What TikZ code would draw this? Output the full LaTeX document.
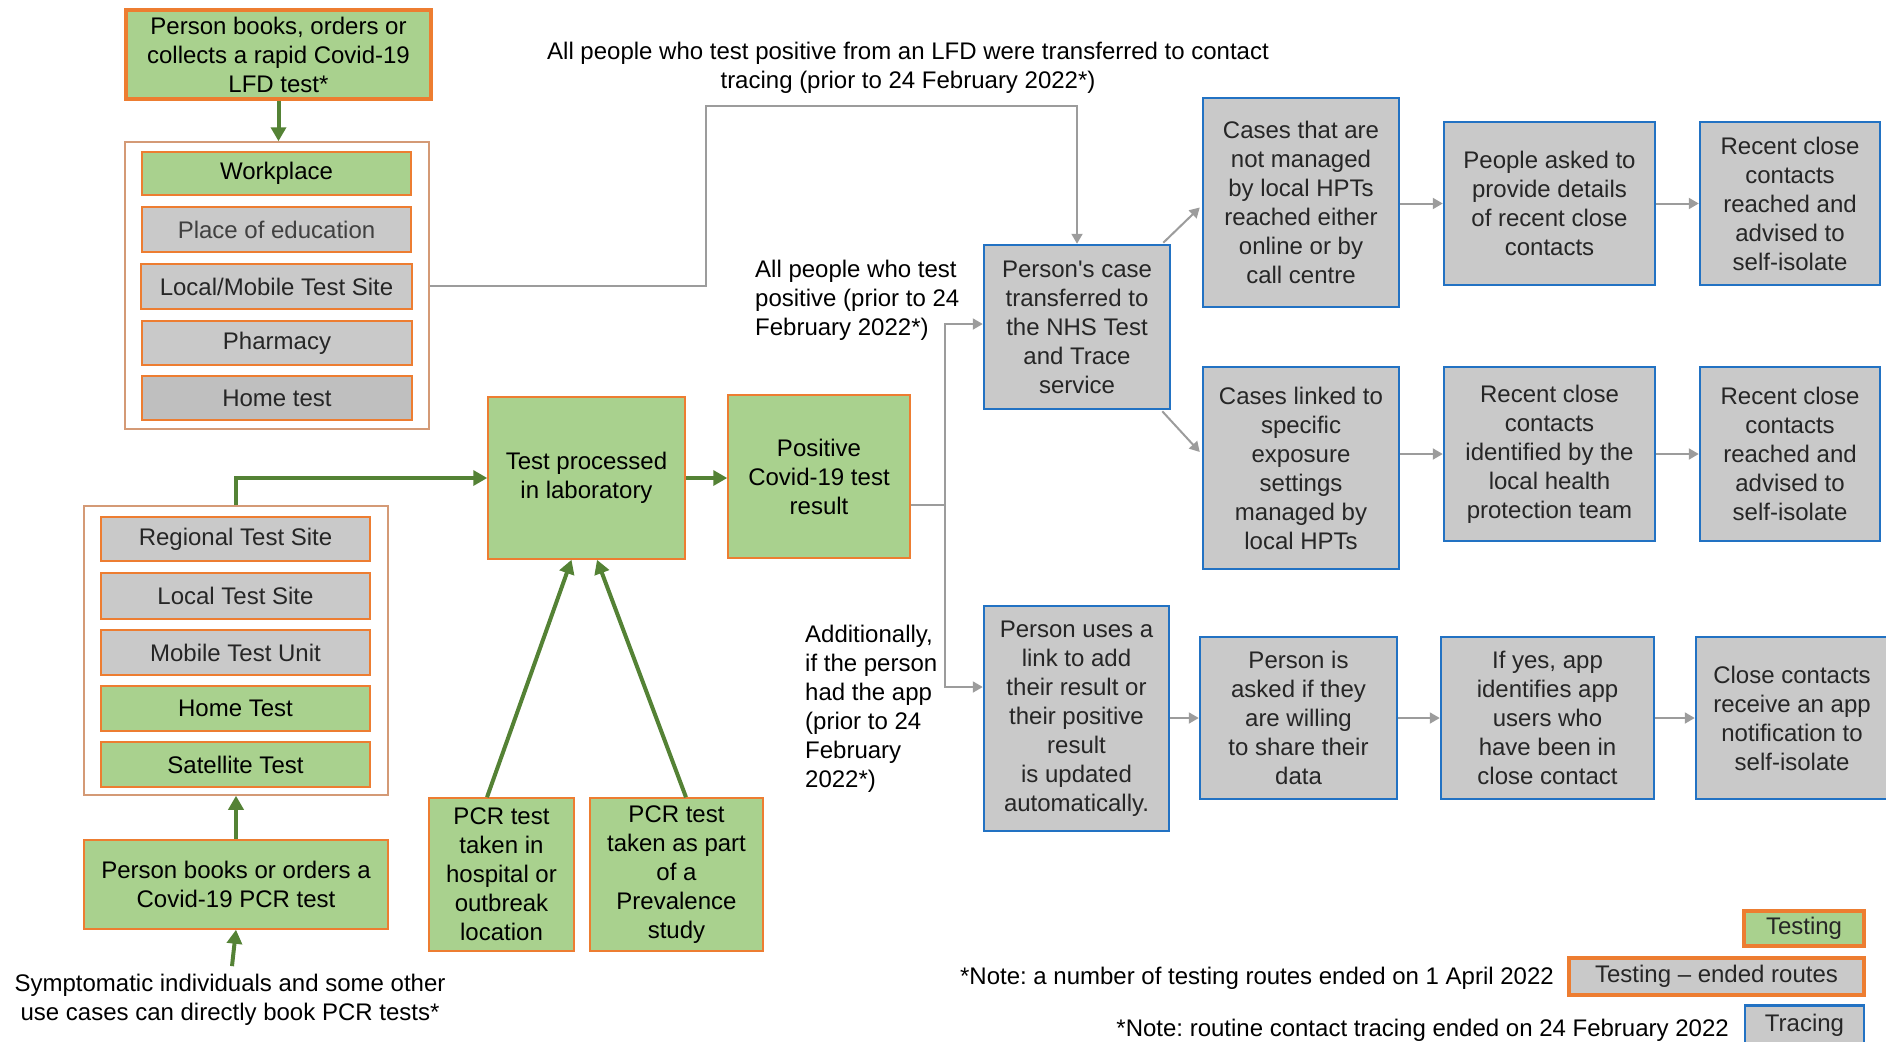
\documentclass[tikz,border=0pt]{standalone}
\usepackage{fontspec}
\setmainfont{Liberation Sans}[Ligatures=TeXOff]
\usetikzlibrary{arrows.meta,calc}
\definecolor{gfill}{HTML}{A9D18E}
\definecolor{gryfill}{HTML}{C9C9C9}
\definecolor{gryfilldark}{HTML}{BFBFBF}
\definecolor{orng}{HTML}{ED7D31}
\definecolor{orngl}{HTML}{D49A76}
\definecolor{blu}{HTML}{2272C3}
\definecolor{garr}{HTML}{548235}
\definecolor{glin}{HTML}{9C9C9C}
\definecolor{gtxt}{HTML}{262626}
\definecolor{ltxt}{HTML}{404040}
\frenchspacing
\begin{document}
\begin{tikzpicture}[x=1pt,y=-1pt,
 every node/.style={font=\fontsize{24}{29}\selectfont, inner sep=0pt, align=center},
 wh/.style 2 args={minimum width=#1pt, minimum height=#2pt},
 testbox/.style={draw=orng, line width=1.5pt, fill=gfill},
 thicktest/.style={draw=orng, line width=3.5pt, fill=gfill},
 endedbox/.style={draw=orng, line width=1.5pt, fill=gryfill, text=gtxt},
 tracebox/.style={draw=blu, line width=2.5pt, fill=gryfill, text=gtxt},
 groupbox/.style={draw=orngl, line width=1.5pt, fill=white},
 garrow/.style={draw=garr, line width=4pt, -{Triangle[length=14pt,width=15pt]}},
 gconn/.style={draw=glin, line width=2pt},
 gconnarrow/.style={gconn, -{Triangle[length=10pt,width=11pt]}},
 plain/.style={text=black},
]
\useasboundingbox (0,0) rectangle (1886,1041);

% ---------- LFD testing ----------
\node[thicktest, wh={305}{89}] (lfd) at (278.5,54.5) {Person books, orders or\\collects a rapid Covid-19\\LFD test*};
\node[groupbox, wh={304}{287}] (lfdgrp) at (277,285.5) {};
\node[testbox, wh={269}{43}] (workplace) at (276.5,173.5) {Workplace};
\node[endedbox, wh={269}{45}, text=ltxt] (education) at (276.5,229.5) {Place of education};
\node[endedbox, wh={271}{45}] (lmts) at (276.5,286.5) {Local/Mobile Test Site};
\node[endedbox, wh={270}{44}] (pharmacy) at (277,343) {Pharmacy};
\node[endedbox, fill=gryfilldark, wh={270}{44}] (hometest) at (277,398) {Home test};

% ---------- PCR testing ----------
\node[groupbox, wh={304}{289}] (pcrgrp) at (236,650.5) {};
\node[endedbox, wh={269}{44}] (regional) at (235.5,539) {Regional Test Site};
\node[endedbox, wh={269}{46}] (localts) at (235.5,596) {Local Test Site};
\node[endedbox, wh={269}{45}] (mobile) at (235.5,652.5) {Mobile Test Unit};
\node[testbox, wh={269}{45}] (hometwo) at (235.5,708.5) {Home Test};
\node[testbox, wh={269}{45}] (satellite) at (235.5,764.5) {Satellite Test};
\node[testbox, wh={304}{89}] (pcrbook) at (236,884.5) {Person books or orders a\\Covid-19 PCR test};
\node[plain] (symp) at (230,1000) {Symptomatic individuals and some other\\use cases can directly book PCR tests*};

\node[testbox, wh={197}{162}] (lab) at (586.5,478) {Test processed\\in laboratory};
\node[testbox, wh={182}{163}] (positive) at (819,476.5) {Positive\\Covid-19 test\\result};
\node[testbox, wh={145}{153}] (hosp) at (501.5,874.5) {PCR test\\taken in\\hospital or\\outbreak\\location};
\node[testbox, wh={173}{153}] (prev) at (676.5,874.5) {PCR test\\taken as part\\of a\\Prevalence\\study};

% ---------- Tracing ----------
\node[tracebox, wh={186}{164}] (personcase) at (1077,327) {Person's case\\transferred to\\the NHS Test\\and Trace\\service};
\node[tracebox, wh={196}{209}] (notmanaged) at (1301,202.5) {Cases that are\\not managed\\by local HPTs\\reached either\\online or by\\call centre};
\node[tracebox, wh={196}{202}] (linked) at (1301,468) {Cases linked to\\specific\\exposure\\settings\\managed by\\local HPTs};
\node[tracebox, wh={211}{163}] (peopleasked) at (1549.5,203.5) {People asked to\\provide details\\of recent close\\contacts};
\node[tracebox, wh={180}{163}] (recentone) at (1790,203.5) {Recent close\\contacts\\reached and\\advised to\\self-isolate};
\node[tracebox, wh={211}{174}] (identified) at (1549.5,454) {Recent close\\contacts\\identified by the\\local health\\protection team};
\node[tracebox, wh={180}{174}] (recenttwo) at (1790,454) {Recent close\\contacts\\reached and\\advised to\\self-isolate};

\node[tracebox, wh={185}{225}] (personuses) at (1076.5,718.5) {Person uses a\\link to add\\their result or\\their positive\\result\\is updated\\automatically.};
\node[tracebox, wh={197}{162}] (asked) at (1298.5,718) {Person is\\asked if they\\are willing\\to share their\\data};
\node[tracebox, wh={213}{162}] (ifyes) at (1547.5,718) {If yes, app\\identifies app\\users who\\have been in\\close contact};
\node[tracebox, wh={192}{162}] (closec) at (1792,718) {Close contacts\\receive an app\\notification to\\self-isolate};

% ---------- labels ----------
\node[plain] (lfdlabel) at (908,67.5) {All people who test positive from an LFD were transferred to contact\\tracing (prior to 24 February 2022*)};
\node[plain, anchor=west, align=left] (alllabel) at (755,300) {All people who test\\positive (prior to 24\\February 2022*)};
\node[plain, anchor=west, align=left] (applabel) at (805,709) {Additionally,\\if the person\\had the app\\(prior to 24\\February\\2022*)};

% ---------- legend ----------
\node[thicktest, wh={120}{35}, text=gtxt] (legtest) at (1804,928.5) {Testing};
\node[endedbox, line width=3.5pt, wh={295}{37}] (legended) at (1716.5,976.5) {Testing – ended routes};
\node[tracebox, wh={119}{39}] (legtrace) at (1804.5,1025) {Tracing};
\node[plain, anchor=east] (noteone) at (1554,978) {*Note: a number of testing routes ended on 1 April 2022};
\node[plain, anchor=east] (notetwo) at (1729,1030) {*Note: routine contact tracing ended on 24 February 2022};

% ---------- green connectors ----------
\draw[garrow] (lfd.south) -- (lfd.south |- lfdgrp.north);
\draw[garrow] (pcrgrp.north) |- (lab.west);
\draw[garrow] (lab.east) -- (lab.east -| positive.west);
\draw[garrow] (pcrbook.north) -- (pcrgrp.south);
\draw[garrow] ($(symp.north)+(2,-8)$) -- (pcrbook.south);
\draw[garrow] ($(hosp.north)+(-14.5,0)$) -- ($(lab.south)+(-15,0)$);
\draw[garrow] ($(prev.north)+(9.5,0)$) -- ($(lab.south)+(10.5,0)$);

% ---------- gray connectors ----------
\coordinate (lfdturn) at (706,106);
\draw[gconnarrow] (lfdgrp.east) -| (lfdturn) -| (personcase.north);
\coordinate (split) at (945,505);
\draw[gconn] ($(positive.east)+(0,28.5)$) -- (split);
\draw[gconnarrow] (split) |- ($(personcase.west)+(0,-3)$);
\draw[gconnarrow] (split) |- ($(personuses.west)+(0,-31.5)$);

\draw[gconnarrow] ($(personcase.north east)+(-8,-1)$) -- ($(notmanaged.west)+(-2,5)$);
\draw[gconnarrow] ($(personcase.south east)+(-9,1)$) -- ($(linked.west)+(-2,-16)$);
\draw[gconnarrow] (notmanaged.east |- peopleasked.west) -- (peopleasked.west);
\draw[gconnarrow] (peopleasked.east) -- (recentone.west);
\draw[gconnarrow] (linked.east |- identified.west) -- (identified.west);
\draw[gconnarrow] (identified.east) -- (recenttwo.west);
\draw[gconnarrow] (personuses.east |- asked.west) -- (asked.west);
\draw[gconnarrow] (asked.east) -- (ifyes.west);
\draw[gconnarrow] (ifyes.east) -- (closec.west);
\end{tikzpicture}
\end{document}
